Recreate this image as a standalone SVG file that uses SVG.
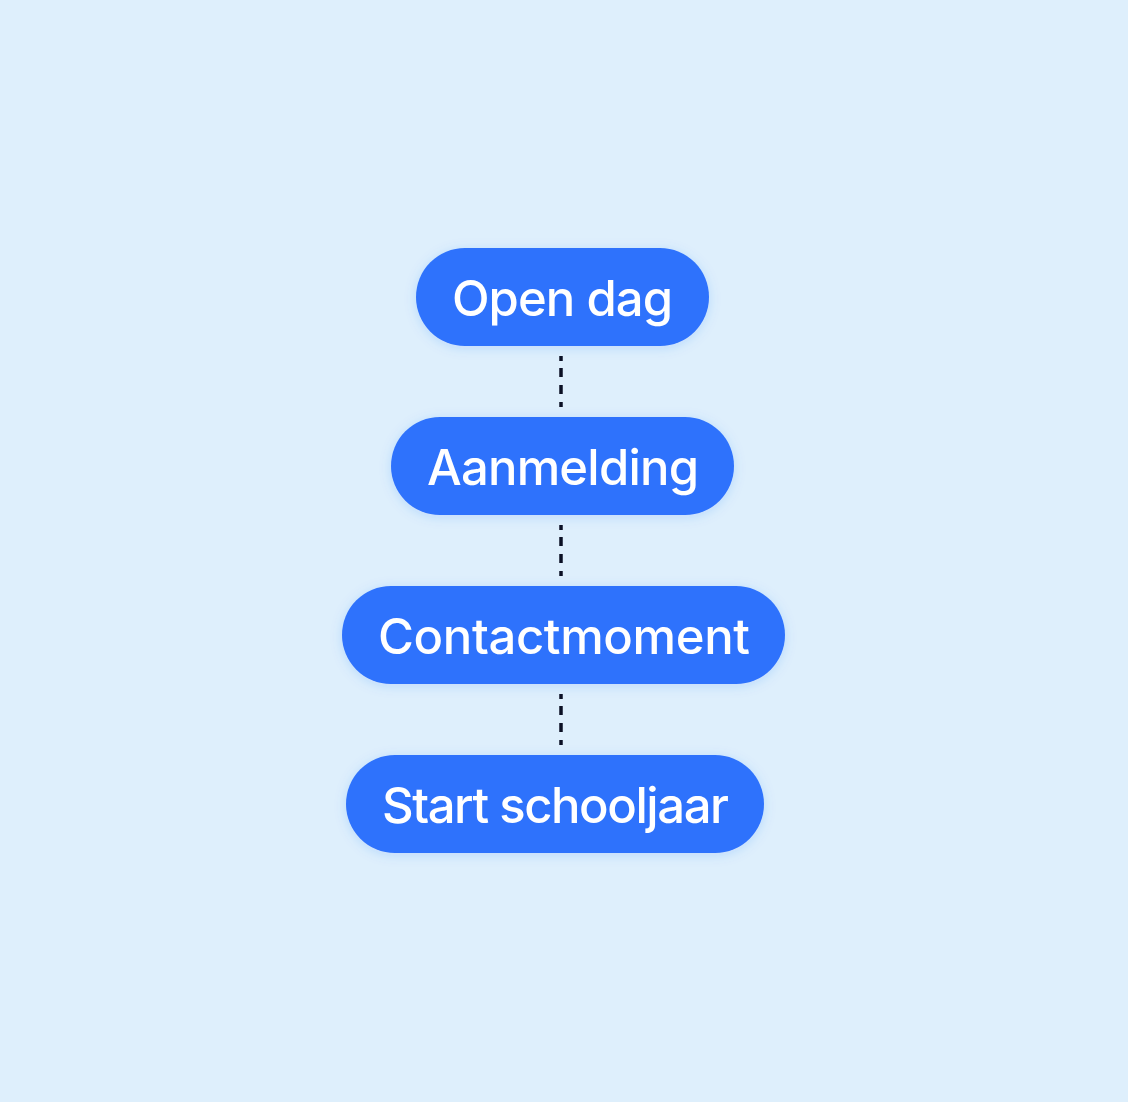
<svg xmlns="http://www.w3.org/2000/svg" width="1128" height="1102" viewBox="0 0 1128 1102">
<defs>
<style>
.node{fill:#2E72FC;filter:url(#sh);}
.lbl{fill:#FFFFFF;font-family:Inter,"Liberation Sans",sans-serif;font-size:49px;font-weight:500;text-anchor:middle;}
.conn{stroke:#0B1024;stroke-width:3.5;fill:none;stroke-dasharray:5 7 9 8 9 8 5 100;}
</style>
<filter id="sh" x="-20%" y="-40%" width="140%" height="180%">
<feDropShadow dx="0" dy="2" stdDeviation="6" flood-color="#2E72FC" flood-opacity="0.18"/>
</filter>
</defs>
<rect width="1128" height="1102" fill="#DEEFFC"/>
<g id="connectors">
<line class="conn" x1="561" y1="356" x2="561" y2="407"/>
<line class="conn" x1="561" y1="525" x2="561" y2="576"/>
<line class="conn" x1="561" y1="694" x2="561" y2="745"/>
</g>
<g id="node-open-dag">
<rect class="node" x="416" y="248" width="293" height="98" rx="49"/>
<text class="lbl" x="562.5" y="315.5" textLength="221" lengthAdjust="spacing">Open dag</text>
</g>
<g id="node-aanmelding">
<rect class="node" x="391" y="417" width="343" height="98" rx="49"/>
<text class="lbl" x="563" y="484.5" textLength="272" lengthAdjust="spacing">Aanmelding</text>
</g>
<g id="node-contactmoment">
<rect class="node" x="342" y="586" width="443" height="98" rx="49"/>
<text class="lbl" x="564" y="653.5" textLength="372" lengthAdjust="spacing">Contactmoment</text>
</g>
<g id="node-start-schooljaar">
<rect class="node" x="346" y="755" width="418" height="98" rx="49"/>
<text class="lbl" x="555.5" y="822.5" textLength="347" lengthAdjust="spacing">Start schooljaar</text>
</g>
</svg>
